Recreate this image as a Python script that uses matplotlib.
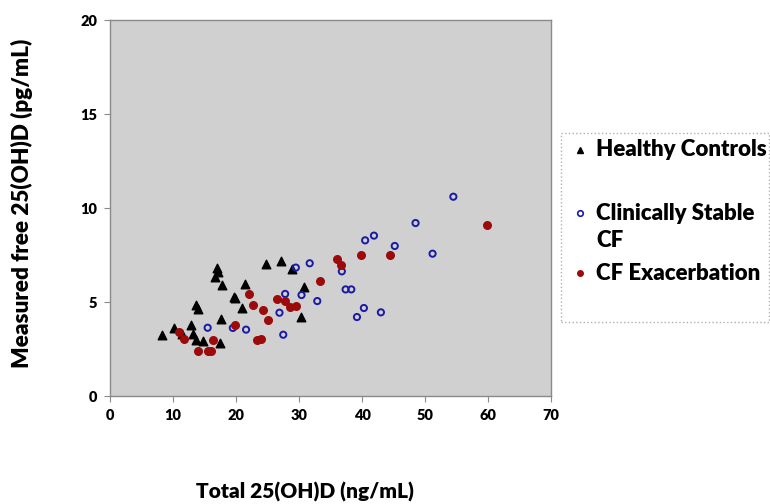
import matplotlib
matplotlib.use("Agg")
import matplotlib.pyplot as plt
from matplotlib.lines import Line2D
from matplotlib.patches import Rectangle

plt.rcParams["font.family"] = ["Lato", "DejaVu Sans"]
WT = "heavy"

# Healthy controls
hc_x = [8.2, 10.1, 11.5, 12.8, 13.2, 13.6, 13.7, 14.0, 14.8, 16.6, 17.0, 17.2,
        17.6, 17.5, 17.8, 19.7, 19.9, 21.0, 21.5, 24.8, 27.1, 28.9, 30.8, 30.3]
hc_y = [3.23, 3.63, 3.28, 3.79, 3.28, 3.0, 4.82, 4.61, 2.93, 6.31, 6.83, 6.61,
        4.08, 2.8, 5.9, 5.28, 5.23, 4.68, 5.97, 7.04, 7.16, 6.76, 5.78, 4.22]

# Clinically stable CF
cs_x = [15.5, 19.5, 21.6, 26.9, 27.5, 27.8, 29.5, 30.4, 31.7, 32.9, 36.8, 37.4,
        38.3, 39.2, 40.3, 43.0, 40.5, 41.9, 45.2, 48.5, 51.2, 54.5]
cs_y = [3.63, 3.62, 3.53, 4.43, 3.26, 5.43, 6.83, 5.37, 7.06, 5.05, 6.63, 5.67,
        5.67, 4.2, 4.68, 4.45, 8.28, 8.53, 7.98, 9.2, 7.57, 10.6]

# CF exacerbation
ex_x = [11.0, 11.7, 14.0, 15.6, 16.1, 16.4, 19.8, 22.0, 22.7, 23.4, 23.9, 24.3,
        25.0, 26.5, 27.7, 28.6, 29.5, 33.3, 36.1, 36.6, 39.9, 44.4, 59.9]
ex_y = [3.42, 3.02, 2.38, 2.41, 2.41, 2.96, 3.76, 5.43, 4.84, 2.98, 3.05, 4.59,
        4.04, 5.16, 5.07, 4.75, 4.80, 6.12, 7.30, 6.95, 7.5, 7.5, 9.08]

x_ticks = [0, 10, 20, 30, 40, 50, 60, 70]
y_ticks = [0, 5, 10, 15, 20]
legend_labels = ["Healthy Controls", "Clinically Stable\nCF", "CF Exacerbation"]

W, H = 770, 504
fig = plt.figure(figsize=(W / 100, H / 100), dpi=100)
ax = fig.add_axes([110 / W, 1 - 396 / H, (551 - 110) / W, (396 - 20) / H])
ax.set_facecolor("#D0D0D0")

ax.scatter(hc_x, hc_y, marker="^", s=38, color="black", zorder=3)
ax.scatter(cs_x, cs_y, marker="o", s=20, facecolor="none", edgecolor="#1a1aa6", linewidth=1.4, zorder=3)
ax.scatter(ex_x, ex_y, marker="o", s=30, color="#9c0a0a", zorder=3)

ax.set_xlim(0, 70)
ax.set_ylim(0, 20)
ax.set_xticks(x_ticks)
ax.set_yticks(y_ticks)
for s in ax.spines.values():
    s.set_color("#8a8a8a")
    s.set_linewidth(1.0)
ax.tick_params(direction="out", length=4, color="#8a8a8a", labelsize=10.5, pad=5)
for lab in ax.get_xticklabels() + ax.get_yticklabels():
    lab.set_fontweight(WT)

fig.text(305 / W, 1 - 492 / H, "Total 25(OH)D (ng/mL)", ha="center", va="center",
         fontsize=15, fontweight=WT)
fig.text(22 / W, 1 - 203 / H, "Measured free 25(OH)D (pg/mL)", ha="center", va="center",
         rotation=90, fontsize=16.2, fontweight=WT)

# Legend drawn manually to match the reference layout
fig.patches.append(Rectangle((561 / W, 1 - 322 / H), (769 - 561) / W, (322 - 133) / H,
                             transform=fig.transFigure, facecolor="white",
                             edgecolor="#b0b0b0", linestyle=":", linewidth=1.0))
fig.add_artist(Line2D([580 / W], [1 - 150 / H], marker="^", color="black",
                      markersize=4, transform=fig.transFigure))
fig.add_artist(Line2D([580 / W], [1 - 213 / H], marker="o", markerfacecolor="none",
                      markeredgecolor="#1a1aa6", markeredgewidth=1.2, markersize=4,
                      transform=fig.transFigure))
fig.add_artist(Line2D([580 / W], [1 - 273 / H], marker="o", color="#9c0a0a",
                      markersize=4, transform=fig.transFigure))
fig.text(596 / W, 1 - 150 / H, legend_labels[0], ha="left", va="center",
         fontsize=16, fontweight=WT)
fig.text(596 / W, 1 - 227 / H, legend_labels[1], ha="left", va="center",
         fontsize=16, fontweight=WT, linespacing=1.4)
fig.text(596 / W, 1 - 273 / H, legend_labels[2], ha="left", va="center",
         fontsize=16, fontweight=WT)

fig.savefig("out.png", dpi=100)
